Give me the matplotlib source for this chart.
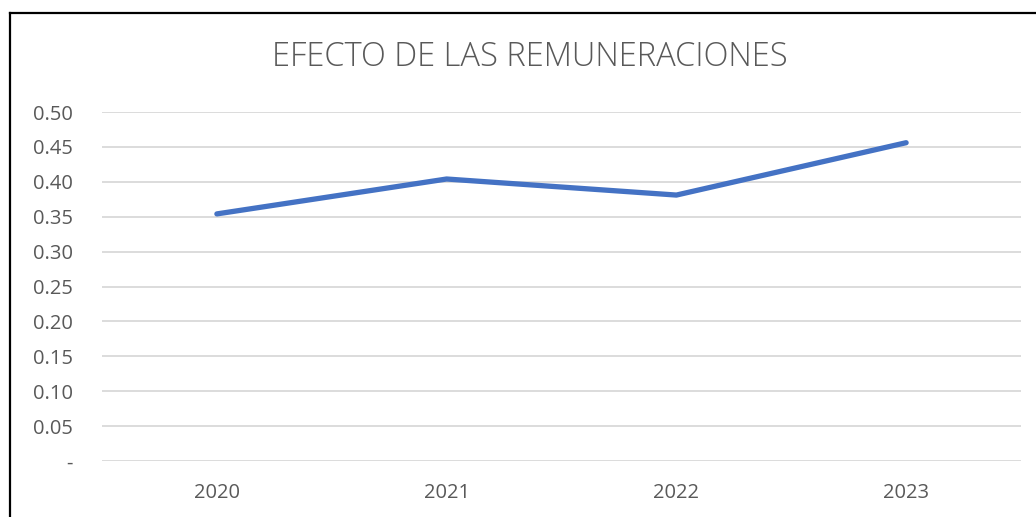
import matplotlib.pyplot as plt
from matplotlib.ticker import FuncFormatter
from matplotlib.lines import Line2D

years = ['2020', '2021', '2022', '2023']
valores = [0.354, 0.404, 0.381, 0.456]
yticks = [0, 0.05, 0.10, 0.15, 0.20, 0.25, 0.30, 0.35, 0.40, 0.45, 0.50]

plt.rcParams['font.family'] = ['Open Sans', 'DejaVu Sans']

fig = plt.figure(figsize=(10.36, 5.17), dpi=100)
ax = fig.add_axes([102/1036, 1 - 461/517, 919/1036, 349/517])

ax.plot(range(len(years)), valores, color='#4472C4', lw=3.8, solid_capstyle='round', zorder=3)

ax.set_xlim(-0.5, len(years) - 0.5)
ax.set_ylim(0, 0.5)
ax.set_xticks(range(len(years)))
ax.set_xticklabels(years)
ax.set_yticks(yticks)
ax.yaxis.set_major_formatter(FuncFormatter(lambda v, p: '-' if abs(v) < 1e-9 else f'{v:.2f}'))
ax.grid(axis='y', color='#D9D9D9', lw=1.3)
ax.set_axisbelow(True)
for s in ax.spines.values():
    s.set_visible(False)
ax.tick_params(length=0, labelsize=14.5, labelcolor='#595959')
ax.tick_params(axis='x', pad=16)
ax.tick_params(axis='y', pad=21)

fig.text(530/1036, 1 - 57/517, 'EFECTO DE LAS REMUNERACIONES', ha='center', va='center',
         fontsize=23.5, color='#595959', fontweight='light')

# chart frame (only left and top visible in the crop)
fig.add_artist(Line2D([9.5/1036, 9.5/1036], [0, 1 - 12.5/517], color='black', lw=1.6, transform=fig.transFigure))
fig.add_artist(Line2D([9.5/1036, 1], [1 - 12.5/517, 1 - 12.5/517], color='black', lw=1.6, transform=fig.transFigure))

fig.savefig('out.png', dpi=100)
